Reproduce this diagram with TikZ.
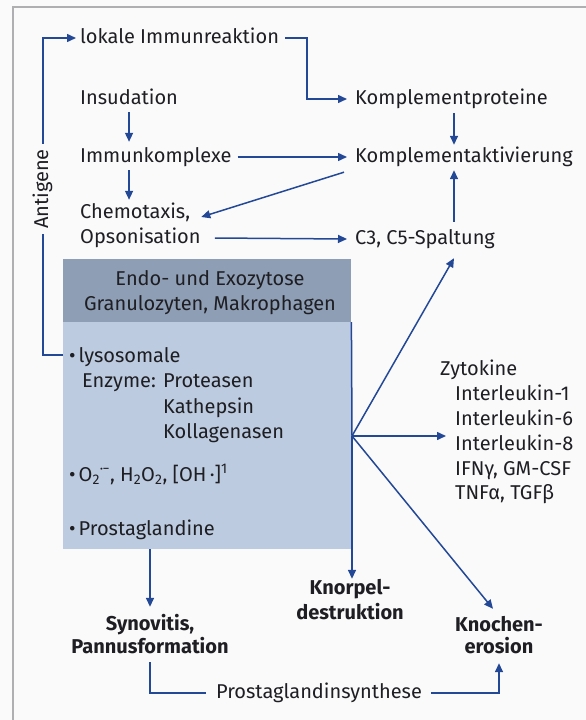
\documentclass[tikz,border=0pt]{standalone}
\usepackage{fontspec}
\setmainfont{Fira Sans}
\usetikzlibrary{arrows.meta,calc}
\definecolor{ablue}{RGB}{35,72,150}
\definecolor{hdr}{RGB}{142,158,181}
\definecolor{bx}{RGB}{188,203,223}
\definecolor{txt}{RGB}{30,30,35}
\definecolor{frm}{RGB}{175,175,178}
\definecolor{bg}{RGB}{250,250,251}
\newcommand{\fs}{\fontsize{20pt}{23pt}\selectfont}
\begin{document}
\begin{tikzpicture}[x=1pt,y=-1pt,
  lbl/.style={inner sep=0pt, text height=15pt, text depth=5pt, anchor=west, text=txt, font=\fs},
  bl/.style={lbl, anchor=center, font=\fs\bfseries},
  ln/.style={draw=ablue, line width=1.5pt},
  arr/.style={ln, -{Triangle[length=9pt,width=8pt]}}]
\useasboundingbox (0,0) rectangle (586,720);
\fill[bg] (0,0) rectangle (586,720);
\draw[frm, line width=1.5pt] (13,720) -- (13,7) -- (586,7);

% box
\node[fill=hdr, inner sep=0pt, minimum width=288pt, minimum height=63pt, anchor=north west] (hdr) at (63,259) {};
\node[fill=bx, inner sep=0pt, minimum width=288pt, minimum height=227pt, anchor=north west] (box) at (63,322) {};
\node[lbl, anchor=center] (h1) at (210,280) {Endo- und Exozytose};
\node[lbl, anchor=center] (h2) at (210,305) {Granulozyten, Makrophagen};

% top texts
\node[lbl] (lok) at (80,38) {lokale Immunreaktion};
\node[lbl] (kp) at (355,99) {Komplementproteine};
\node[lbl] (ins) at (80,99) {Insudation};
\node[lbl] (imk) at (80,157) {Immunkomplexe};
\node[lbl] (ka) at (355,157) {Komplementaktivierung};
\node[lbl] (chem) at (80,213) {Chemotaxis,};
\node[lbl] (ops) at (80,238) {Opsonisation};
\node[lbl] (c3) at (355,239) {C3, C5-Spaltung};
\node[lbl, rotate=90, anchor=center, inner xsep=5pt] (ant) at (43,189) {Antigene};

% box contents
\node[lbl] (lys) at (69,357) {•\hspace{3pt}lysosomale};
\node[lbl] (enz) at (82,382) {Enzyme:};
\node[lbl] (prot) at (163,382) {Proteasen};
\node[lbl] (kath) at (163,408) {Kathepsin};
\node[lbl] (koll) at (163,433) {Kollagenasen};
\node[lbl] (oxy) at (69,476) {•\hspace{3pt}O\textsubscript{2}\textsuperscript{·\kern-0.05em−}, H\textsubscript{2}O\textsubscript{2}, [OH\,·]\textsuperscript{1}};
\node[lbl] (pros) at (69,530) {•\hspace{3pt}Prostaglandine};

% Zytokine
\node[lbl] (zyt) at (440,370) {Zytokine};
\node[lbl] (il1) at (455,395) {Interleukin-1};
\node[lbl] (il6) at (455,420) {Interleukin-6};
\node[lbl] (il8) at (455,445) {Interleukin-8};
\node[lbl] (ifn) at (455,470) {IFNγ, GM-CSF};
\node[lbl] (tnf) at (455,494) {TNFα, TGFβ};

% bottom
\node[bl] (kn1) at (350,589) {Knorpel-};
\node[bl] (kn2) at (350,614) {destruktion};
\node[bl] (syn1) at (150,625) {Synovitis,};
\node[bl] (syn2) at (150,648) {Pannusformation};
\node[bl] (kno1) at (499,626) {Knochen-};
\node[bl] (kno2) at (499,648) {erosion};
\node[lbl, anchor=center] (ps) at (319,693) {Prostaglandinsynthese};

% connectors
\coordinate (col) at (454,0);
\coordinate (br) at (352,436);
\coordinate (boxl) at (63,355);

\draw[ln] (boxl) -| (ant.west);
\draw[arr] (ant.east) |- ($(lok.west)+(-4,0)$);
\draw[arr] ($(lok.east)+(6,0)$) -- ($(lok.east)+(28,0)$) |- ($(kp.west)+(-8,0)$);
\draw[arr] ($(ins.south)+(0,3)$) -- ($(ins.south |- imk.north)+(0,-5)$);
\draw[arr] ($(ins.south |- imk.south)+(0,3)$) -- ($(ins.south |- chem.north)+(0,-3)$);
\draw[arr] ($(imk.east)+(6,0)$) -- ($(ka.west)+(-8,0)$);
\draw[arr] ($(col |- kp.south)+(0,4)$) -- ($(col |- ka.north)+(0,-2)$);
\draw[arr] ($(ka.south west)+(-11,5)$) -- ($(chem.east)+(11,4)$);
\draw[arr] ($(ops.east)+(14,0)$) -- ($(c3.west)+(-8,0)$);
\draw[arr] ($(col |- c3.north)+(0,-7)$) -- ($(col |- ka.south)+(0,3)$);

\draw[ln] (box.north east) -- (br);
\draw[arr] (br) -- ($(col |- c3.south)+(0,9)$);
\draw[arr] (br) -- ($(br -| il8.west)+(-9,0)$);
\draw[arr] (br) -- ($(kno1.north)+(-6,-7)$);
\draw[arr] (br) -- (br |- kn1.north);
\draw[arr] (syn1 |- box.south) -- ($(syn1.north)+(0,-8)$);
\draw[ln] ($(syn2.south)+(0,4)$) |- ($(ps.west)+(-10,0)$);
\draw[arr] ($(ps.east)+(9,0)$) -| ($(kno2.south)+(0,5)$);
\end{tikzpicture}
\end{document}
